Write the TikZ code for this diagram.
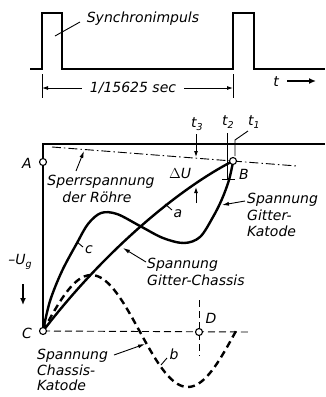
\documentclass[tikz,border=0pt]{standalone}
\usepackage{fontspec}
\setmainfont{DejaVu Sans}
\usetikzlibrary{arrows.meta}
\newcommand{\lsub}[1]{\raisebox{-0.25em}{\fontsize{9.5}{10}\selectfont #1}}
\begin{document}
\begin{tikzpicture}[x=1pt,y=-1pt,
  lbl/.style={font=\fontsize{14}{15}\selectfont\itshape, inner sep=0pt},
  heavy/.style={line width=2.3pt, line join=miter},
  curve/.style={line width=2.4pt, line cap=round, line join=round},
  dcurve/.style={line width=2.4pt, dash pattern=on 7pt off 4.5pt},
  thinline/.style={line width=0.9pt},
  tipa/.style={-{Latex[length=7pt,width=4pt]}},
  tipb/.style={-{Latex[length=6pt,width=4pt]}},
  pt/.style={circle, draw, fill=white, line width=1.1pt, minimum size=7pt, inner sep=0pt}
]
\useasboundingbox (0,0) rectangle (325,397);

% ---- pulse train
\draw[heavy] (30,69) -- (42,69) -- (42,13) -- (62,13) -- (62,69) -- (233,69) -- (233,13) -- (254,13) -- (254,69) -- (325,69);
\node[lbl] (sync) at (143,19) {Synchronimpuls};
\draw[thinline] (55,36) -- (80,22);
\draw[thinline] (42,74) -- (42,98);
\draw[thinline] (233,74) -- (233,98);
\node[lbl, fill=white, inner sep=2pt] (per) at (133,88) {1/15625 sec};
\coordinate (pl) at (42,88);
\coordinate (pr) at (233,88);
\draw[thinline, tipb] (per.west) ++(-6,0) -- (pl);
\draw[thinline, tipb] (per.east) ++(6,0) -- (pr);
\node[lbl] (tlab) at (276,82) {t};
\coordinate (tarr) at (316,81);
\draw[line width=1.8pt, -{Latex[length=7pt,width=6pt]}] (287,81) -- (tarr);

% ---- frame
\coordinate (A) at (43,162);
\coordinate (B) at (233,161);
\coordinate (C) at (43,331);
\coordinate (D) at (199,332);
\draw[heavy] (325,144) -- (43,144) -- (C);

% dash-dot blocking voltage line
\coordinate (dd1) at (52,147);
\coordinate (dd2) at (297,166);
\draw[thinline, dash pattern=on 9pt off 3pt on 1.5pt off 3pt] (dd1) -- (dd2);
\coordinate (sp) at (84,151);
\draw[thinline, tipa] (76,171) -- (sp);
\node[lbl] (sperr) at (101,182) {Sperrspannung};
\node[lbl] (roehre) at (97,197) {der Röhre};

% dashed axis through C and D
\draw[thinline, dash pattern=on 7pt off 4pt] (C) -- (248,332);
\draw[thinline, dash pattern=on 7pt off 4pt] (199,300) -- (199,356);

% curve b (dashed sine)
\draw[dcurve] plot[domain=43:236, samples=80, smooth] (\x, {331-56*sin(1.8653*(\x-43))});

% curve a
\draw[curve] (C) .. controls (105,250) and (180,188) .. (B);

% curve c
\draw[curve] plot[smooth, tension=0.55] coordinates {(43,331) (50,301) (62,271) (77,243) (88,224) (101,213) (117,214) (140,226) (163,238) (184,243) (200,237) (213,217) (222,199) (229,180) (233,162)};

% Delta U
\node[lbl] (dU) at (180,173) {$\Delta$U};
\coordinate (dUtop) at (196,157);
\coordinate (dUbot) at (196,187);
\draw[thinline, tipb] (196,134) -- (dUtop);
\draw[thinline, tipb] (196,203) -- (dUbot);

% t markers
\node[lbl] (t3) at (197,124) {t\lsub{3}};
\node[lbl] (t2) at (228,122) {t\lsub{2}};
\node[lbl] (t1) at (254,122) {t\lsub{1}};
\draw[thinline] (227,133) -- (227,180);
\draw[thinline] (222,179) -- (235,179);
\draw[thinline] (248,131) -- (235,140) -- (235,156);

% points
\node[pt] (Ap) at (A) {};
\node[pt] (Bp) at (B) {};
\node[pt] (Cp) at (C) {};
\node[pt] (Dp) at (D) {};
\node[lbl] (Al) at (27,163) {A};
\node[lbl] (Bl) at (244,174) {B};
\node[lbl] (Cl) at (27,333) {C};
\node[lbl] (Dl) at (211,318) {D};

% curve labels
\draw[thinline] (165,204) -- (172,210);
\node[lbl] (la) at (178,214) {a};
\draw[thinline] (77,242) -- (83,247);
\node[lbl] (lc) at (89,250) {c};
\draw[thinline] (161,365) -- (167,358);
\node[lbl] (lb) at (174,354) {b};

% Spannung Gitter-Katode
\node[lbl, anchor=west, align=left, font=\fontsize{14}{16.5}\selectfont\itshape] (gk) at (247,215) {Spannung\\Gitter-\\Katode};
\coordinate (gktip) at (222,205);
\draw[thinline, tipa] (245,201) -- (gktip);

% Spannung Gitter-Chassis
\node[lbl, anchor=west, align=left, font=\fontsize{14}{17.5}\selectfont\itshape] (gc) at (147,272) {Spannung\\Gitter-Chassis};
\coordinate (gctip) at (123,248);
\draw[thinline, tipa] (146,262) -- (gctip);

% Spannung Chassis-Katode
\node[lbl, anchor=west, align=left, font=\fontsize{14}{15.5}\selectfont\itshape] (ck) at (37,370) {Spannung\\Chassis-\\Katode};
\coordinate (cktip) at (145,344);
\draw[thinline, tipa] (114,355) -- (cktip);

% -Ug
\node[lbl] (ug) at (20,262) {\textendash U\lsub{g}};
\coordinate (ugtip) at (23,305);
\draw[line width=1.8pt, -{Latex[length=7pt,width=6pt]}] (23,284) -- (ugtip);
\end{tikzpicture}
\end{document}
